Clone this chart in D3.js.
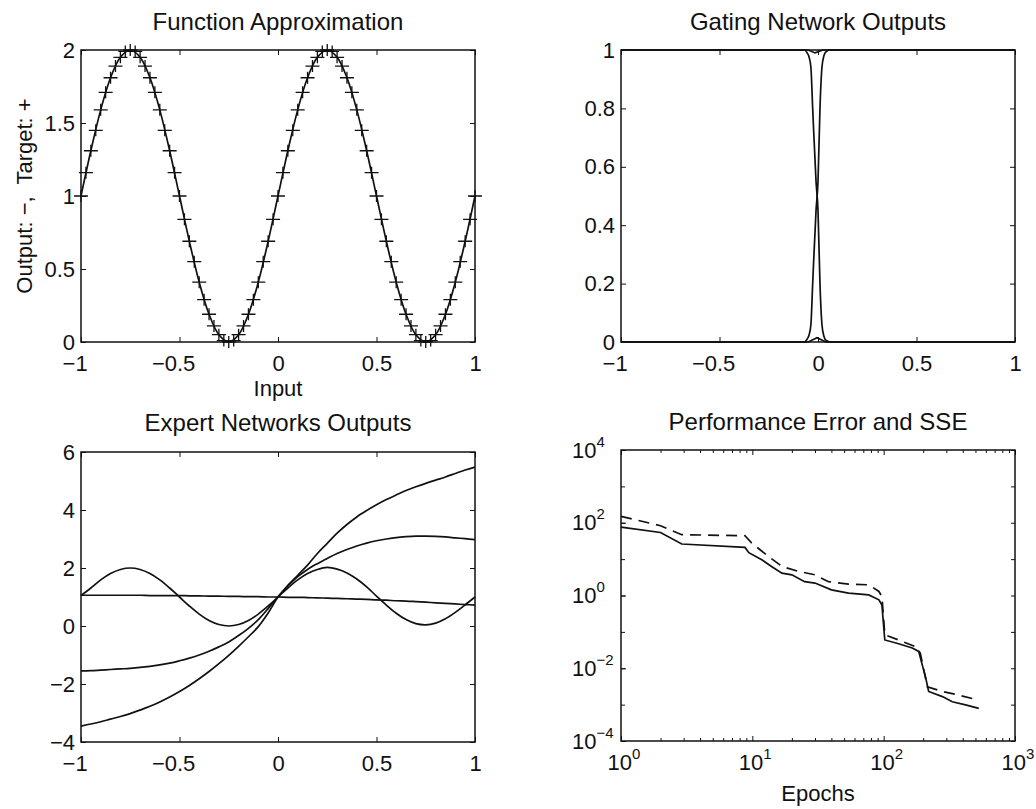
<!DOCTYPE html>
<html>
<head>
<meta charset="utf-8">
<script src="https://cdn.jsdelivr.net/npm/d3@7"></script>
<style>
  body { margin: 0; background: #fff; }
  text { font-family: "Liberation Sans", Arial, Helvetica, sans-serif; fill: #111; font-size: 22px; }
  .title { font-size: 24px; }
</style>
</head>
<body>
<div class="chart"></div>
<script>
// ---- Function approximation: target points (+) and network output (line)
const targetX = [-1,-0.975,-0.95,-0.925,-0.9,-0.875,-0.85,-0.825,-0.8,-0.775,-0.75,-0.725,-0.7,-0.675,-0.65,-0.625,-0.6,-0.575,-0.55,-0.525,
  -0.5,-0.475,-0.45,-0.425,-0.4,-0.375,-0.35,-0.325,-0.3,-0.275,-0.25,-0.225,-0.2,-0.175,-0.15,-0.125,-0.1,-0.075,-0.05,-0.025,
  0,0.025,0.05,0.075,0.1,0.125,0.15,0.175,0.2,0.225,0.25,0.275,0.3,0.325,0.35,0.375,0.4,0.425,0.45,0.475,
  0.5,0.525,0.55,0.575,0.6,0.625,0.65,0.675,0.7,0.725,0.75,0.775,0.8,0.825,0.85,0.875,0.9,0.925,0.95,0.975,1];
const targetY = [1,1.16,1.31,1.45,1.59,1.71,1.81,1.89,1.95,1.99,2,1.99,1.95,1.89,1.81,1.71,1.59,1.45,1.31,1.16,
  1,0.84,0.69,0.55,0.41,0.29,0.19,0.11,0.05,0.01,0,0.01,0.05,0.11,0.19,0.29,0.41,0.55,0.69,0.84,
  1,1.16,1.31,1.45,1.59,1.71,1.81,1.89,1.95,1.99,2,1.99,1.95,1.89,1.81,1.71,1.59,1.45,1.31,1.16,
  1,0.84,0.69,0.55,0.41,0.29,0.19,0.11,0.05,0.01,0,0.01,0.05,0.11,0.19,0.29,0.41,0.55,0.69,0.84,1];

// shared input grid for the output line and the expert curves
const gridX = [-1,-0.95,-0.9,-0.85,-0.8,-0.75,-0.7,-0.65,-0.6,-0.55,-0.5,-0.45,-0.4,-0.35,-0.3,-0.25,-0.2,-0.15,-0.1,-0.05,
  0,0.05,0.1,0.15,0.2,0.25,0.3,0.35,0.4,0.45,0.5,0.55,0.6,0.65,0.7,0.75,0.8,0.85,0.9,0.95,1];
const outputY = [1,1.31,1.59,1.81,1.95,2,1.95,1.81,1.59,1.31,1,0.69,0.41,0.19,0.05,0,0.05,0.19,0.41,0.69,
  1,1.31,1.59,1.81,1.95,2,1.95,1.81,1.59,1.31,1,0.69,0.41,0.19,0.05,0,0.05,0.19,0.41,0.69,1];

// ---- Gating network outputs
const gateX = [-1,-0.07,-0.055,-0.045,-0.036,-0.027,-0.01,0,0.01,0.02,0.03,0.042,0.065,1];
const gate1 = [1,1,0.99,0.975,0.94,0.8,0.55,0.45,0.2,0.06,0.02,0.005,0,0];
const gate2 = [0,0,0.01,0.025,0.06,0.2,0.45,0.55,0.8,0.94,0.98,0.995,1,1];
const gateBumpX = [-1,-0.05,-0.005,0.04,1];
const gate3 = [0,0,0.015,0,0];
const gateDipX = [-1,-0.05,-0.015,0.025,1];
const gate4 = [1,1,0.99,1,1];

// ---- Expert network outputs
const expert1 = [1.05,1.31,1.59,1.81,1.95,2,1.95,1.81,1.59,1.31,1,0.69,0.41,0.19,0.05,0,0.05,0.19,0.41,0.69,
  1,1.31,1.59,1.81,1.95,2.02,1.96,1.83,1.62,1.35,1.03,0.72,0.44,0.22,0.08,0.04,0.1,0.25,0.47,0.73,1];
const expert2 = [1.06,1.06,1.06,1.06,1.06,1.06,1.06,1.05,1.05,1.05,1.05,1.04,1.04,1.03,1.03,1.02,1.02,1.01,1.01,1.0,
  1.0,0.99,0.99,0.98,0.97,0.96,0.95,0.94,0.93,0.92,0.9,0.89,0.87,0.86,0.84,0.82,0.8,0.78,0.76,0.74,0.72];
const expert3 = [-1.55,-1.54,-1.52,-1.5,-1.48,-1.46,-1.43,-1.39,-1.34,-1.28,-1.2,-1.11,-1.0,-0.87,-0.72,-0.55,-0.33,-0.08,0.22,0.6,
  1.0,1.38,1.7,1.95,2.15,2.33,2.5,2.64,2.76,2.86,2.94,3.0,3.05,3.08,3.1,3.1,3.09,3.07,3.04,3.01,2.98];
const expert4 = [-3.45,-3.38,-3.3,-3.21,-3.12,-3.02,-2.9,-2.77,-2.62,-2.45,-2.26,-2.05,-1.82,-1.57,-1.3,-1.01,-0.7,-0.37,-0.02,0.45,
  1.0,1.4,1.75,2.1,2.5,2.85,3.2,3.5,3.76,3.98,4.18,4.36,4.52,4.67,4.8,4.92,5.03,5.14,5.26,5.38,5.48];

// ---- Performance error (solid) and SSE (dashed)
const perfEpoch = [1,2,2.9,8.8,9.4,11.8,14,16.8,20,25,30,40,54,77,92,97,102,130,165,185,195,208,220,280,333,420,530];
const perfError = [76,54,26,21,15,9.6,6.3,4.1,3.7,2.4,2.2,1.43,1.16,1.04,0.76,0.55,0.06,0.047,0.036,0.029,0.0138,0.0059,0.0023,0.00166,0.0012,0.00098,0.00079];
const sseEpoch = [1,2,2.9,8.8,9.9,13.3,16.8,22.5,30,38,54,77,92,97,102,130,175,190,215,280,357,500,530];
const sseValue = [150,83,47,44,27.5,11.8,6.3,4.6,3.7,2.4,2.05,1.97,1.29,0.94,0.083,0.06,0.039,0.026,0.0031,0.0023,0.0019,0.0014,0.0013];

const W = 1036, H = 809;
const svg = d3.select('.chart').append('svg').attr('width', W).attr('height', H);

// panel boxes (left, top, width, height)
const boxes = [
  {x: 81, y: 50, w: 394, h: 292},
  {x: 621, y: 50, w: 394, h: 292},
  {x: 81, y: 452, w: 394, h: 290},
  {x: 621, y: 450, w: 394, h: 291}
];

const fmt = d3.format('~g');
const minusShift = d => d < 0 ? '-0.29em' : 0;

function linearPanel(box, xDom, yDom, xTicks, yTicks) {
  const g = svg.append('g').attr('transform', `translate(${box.x},${box.y})`);
  const x = d3.scaleLinear().domain(xDom).range([0, box.w]);
  const y = d3.scaleLinear().domain(yDom).range([box.h, 0]);
  g.append('g').attr('transform', `translate(0,${box.h})`).attr('color', '#111')
    .call(d3.axisBottom(x).tickValues(xTicks).tickSize(-5).tickSizeOuter(0).tickPadding(13).tickFormat(fmt))
    .call(a => a.select('.domain').remove())
    .selectAll('text').attr('font-size', null).attr('font-family', null).attr('dx', minusShift);
  g.append('g').attr('color', '#111')
    .call(d3.axisTop(x).tickValues(xTicks).tickSize(-5).tickSizeOuter(0).tickFormat(''))
    .call(a => a.select('.domain').remove());
  g.append('g').attr('color', '#111')
    .call(d3.axisLeft(y).tickValues(yTicks).tickSize(-5).tickSizeOuter(0).tickPadding(6).tickFormat(fmt))
    .call(a => a.select('.domain').remove())
    .selectAll('text').attr('font-size', null).attr('font-family', null);
  g.append('g').attr('transform', `translate(${box.w},0)`).attr('color', '#111')
    .call(d3.axisRight(y).tickValues(yTicks).tickSize(-5).tickSizeOuter(0).tickFormat(''))
    .call(a => a.select('.domain').remove());
  g.append('rect').attr('width', box.w).attr('height', box.h)
    .attr('fill', 'none').attr('stroke', '#111').attr('stroke-width', 1.5);
  return {g, x, y};
}

function drawLine(p, xs, ys, curve, dash) {
  const line = d3.line().x(d => p.x(d[0])).y(d => p.y(d[1])).curve(curve || d3.curveLinear);
  p.g.append('path').datum(xs.map((v, i) => [v, ys[i]]))
    .attr('d', line).attr('fill', 'none').attr('stroke', '#111')
    .attr('stroke-width', 1.7).attr('stroke-dasharray', dash || null);
}

function title(box, txt, baseline) {
  svg.append('text').attr('class', 'title').attr('x', box.x + box.w / 2).attr('y', baseline)
    .attr('text-anchor', 'middle').text(txt);
}

// Panel 1: function approximation
const p1 = linearPanel(boxes[0], [-1, 1], [0, 2], [-1, -0.5, 0, 0.5, 1], [0, 0.5, 1, 1.5, 2]);
drawLine(p1, gridX, outputY, d3.curveCatmullRom);
p1.g.append('g').selectAll('path').data(targetX.map((v, i) => [v, targetY[i]]))
  .join('path')
  .attr('d', d => `M${p1.x(d[0]) - 7},${p1.y(d[1])}h14M${p1.x(d[0])},${p1.y(d[1]) - 6}v12`)
  .attr('stroke', '#111').attr('stroke-width', 1.3).attr('fill', 'none');
title(boxes[0], 'Function Approximation', 30);
svg.append('text').attr('x', 278).attr('y', 396).attr('text-anchor', 'middle').text('Input');
svg.append('text').attr('transform', 'translate(32,196) rotate(-90)')
  .attr('text-anchor', 'middle').attr('xml:space', 'preserve').text('Output: \u2212,  Target: +');

// Panel 2: gating network outputs
const p2 = linearPanel(boxes[1], [-1, 1], [0, 1], [-1, -0.5, 0, 0.5, 1], [0, 0.2, 0.4, 0.6, 0.8, 1]);
drawLine(p2, gateX, gate1, d3.curveMonotoneX);
drawLine(p2, gateX, gate2, d3.curveMonotoneX);
drawLine(p2, gateBumpX, gate3);
drawLine(p2, gateDipX, gate4);
title(boxes[1], 'Gating Network Outputs', 30);

// Panel 3: expert networks outputs
const p3 = linearPanel(boxes[2], [-1, 1], [-4, 6], [-1, -0.5, 0, 0.5, 1], [-4, -2, 0, 2, 4, 6]);
[expert1, expert2, expert3, expert4].forEach(s => drawLine(p3, gridX, s, d3.curveCatmullRom));
title(boxes[2], 'Expert Networks Outputs', 431);

// Panel 4: performance (log-log)
const b4 = boxes[3];
const g4 = svg.append('g').attr('transform', `translate(${b4.x},${b4.y})`);
const x4 = d3.scaleLog().domain([1, 1000]).range([0, b4.w]);
const y4 = d3.scaleLog().domain([1e-4, 1e4]).range([b4.h, 0]);
const xMajor = [1, 10, 100, 1000];
const xMinor = [];
[1, 10, 100].forEach(dec => [2, 3, 4, 5, 6, 7, 8, 9].forEach(m => xMinor.push(dec * m)));
const yLabeled = [1e-4, 1e-2, 1, 1e2, 1e4];
const yAll = [1e-4, 1e-3, 1e-2, 1e-1, 1, 10, 1e2, 1e3, 1e4];
const expOf = v => Math.round(Math.log10(v));
const expText = k => k < 0 ? '\u2212' + (-k) : String(k);

function powLabel(sel) {
  sel.text(null).attr('font-size', null).attr('font-family', null);
  sel.append('tspan').text('10');
  sel.append('tspan').attr('dy', -11).attr('font-size', '15px').text(d => expText(expOf(d)));
}

g4.append('g').attr('transform', `translate(0,${b4.h})`).attr('color', '#111')
  .call(d3.axisBottom(x4).tickValues(xMajor).tickSize(-5).tickSizeOuter(0).tickPadding(13))
  .call(a => a.select('.domain').remove())
  .selectAll('text').attr('text-anchor', 'start').attr('x', -14).call(powLabel);
g4.append('g').attr('transform', `translate(0,${b4.h})`).attr('color', '#111')
  .call(d3.axisBottom(x4).tickValues(xMinor).tickSize(-3).tickSizeOuter(0).tickFormat(''))
  .call(a => a.select('.domain').remove());
g4.append('g').attr('color', '#111')
  .call(d3.axisTop(x4).tickValues(xMajor).tickSize(-5).tickSizeOuter(0).tickFormat(''))
  .call(a => a.select('.domain').remove());
g4.append('g').attr('color', '#111')
  .call(d3.axisTop(x4).tickValues(xMinor).tickSize(-3).tickSizeOuter(0).tickFormat(''))
  .call(a => a.select('.domain').remove());
g4.append('g').attr('color', '#111')
  .call(d3.axisLeft(y4).tickValues(yLabeled).tickSize(-5).tickSizeOuter(0))
  .call(a => a.select('.domain').remove())
  .selectAll('text').attr('text-anchor', 'start').attr('x', -49).call(powLabel);
g4.append('g').attr('color', '#111')
  .call(d3.axisLeft(y4).tickValues(yAll).tickSize(-4).tickSizeOuter(0).tickFormat(''))
  .call(a => a.select('.domain').remove());
g4.append('g').attr('transform', `translate(${b4.w},0)`).attr('color', '#111')
  .call(d3.axisRight(y4).tickValues(yAll).tickSize(-4).tickSizeOuter(0).tickFormat(''))
  .call(a => a.select('.domain').remove());
g4.append('rect').attr('width', b4.w).attr('height', b4.h)
  .attr('fill', 'none').attr('stroke', '#111').attr('stroke-width', 1.5);

const p4 = {g: g4, x: x4, y: y4};
drawLine(p4, perfEpoch, perfError);
drawLine(p4, sseEpoch, sseValue, d3.curveLinear, '11,7');
title(b4, 'Performance Error and SSE', 430);
svg.append('text').attr('x', b4.x + b4.w / 2).attr('y', 801).attr('text-anchor', 'middle').text('Epochs');
</script>
</body>
</html>
